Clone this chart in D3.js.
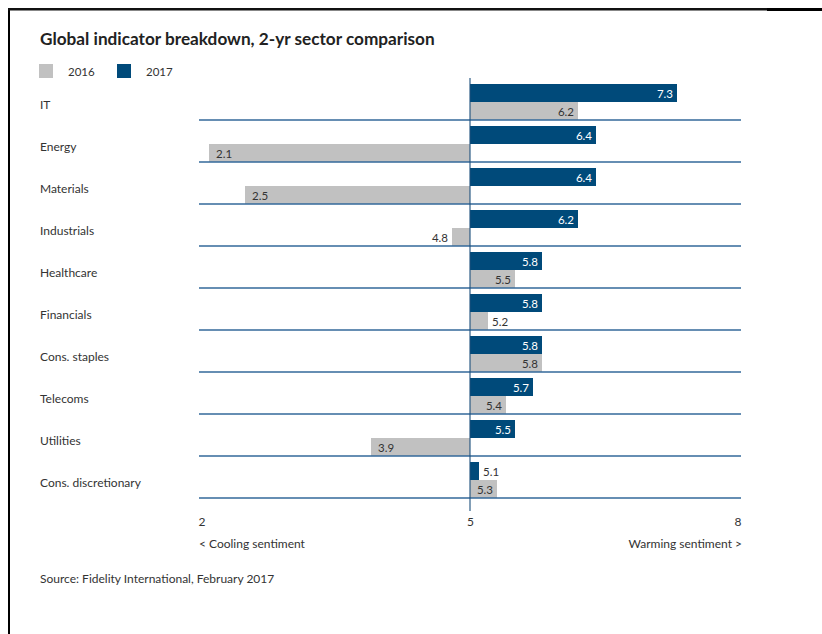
<!DOCTYPE html>
<html>
<head>
<meta charset="utf-8">
<script src="https://cdn.jsdelivr.net/npm/d3@7"></script>
<style>
  html, body { margin: 0; padding: 0; background: #fff; }
  svg { display: block; font-family: Lato, "Open Sans", sans-serif; }
</style>
</head>
<body>
<svg id="chart" width="822" height="634"></svg>
<script>
const categories = ["IT", "Energy", "Materials", "Industrials", "Healthcare", "Financials", "Cons. staples", "Telecoms", "Utilities", "Cons. discretionary"];
const values2017 = [7.3, 6.4, 6.4, 6.2, 5.8, 5.8, 5.8, 5.7, 5.5, 5.1];
const values2016 = [6.2, 2.1, 2.5, 4.8, 5.5, 5.2, 5.8, 5.4, 3.9, 5.3];
const seriesNames = ["2016", "2017"];
const tickValues = [2, 5, 8];
const baseline = 5;

const colors = { "2016": "#c1c1c1", "2017": "#004a7a" };
const textColor = "#333333";

const svg = d3.select("#chart");

// frame
svg.append("rect").attr("x", 8).attr("y", 8).attr("width", 2).attr("height", 626).attr("fill", "#000");
svg.append("rect").attr("x", 8).attr("y", 8).attr("width", 760).attr("height", 2.5).attr("fill", "#111");
svg.append("rect").attr("x", 767).attr("y", 8).attr("width", 55).attr("height", 3).attr("fill", "#000");

// title
svg.append("text").attr("x", 40).attr("y", 45)
  .attr("font-size", 17.2).attr("font-weight", 700).attr("fill", "#222")
  .text("Global indicator breakdown, 2-yr sector comparison");

// legend
const legend = svg.append("g");
const legendX = [39, 117];
seriesNames.forEach((s, i) => {
  legend.append("rect").attr("x", legendX[i]).attr("y", 64).attr("width", 14).attr("height", 14)
    .attr("fill", colors[s]);
  legend.append("text").attr("x", legendX[i] + 29).attr("y", 76)
    .attr("font-size", 11.5).attr("fill", textColor).text(s);
});

const x = d3.scaleLinear().domain([2, 8]).range([200, 740]);
const y = d3.scaleBand().domain(categories).range([78, 498]).padding(0);
const barH = 18;

const data = categories.map((c, i) => ({ cat: c, v16: values2016[i], v17: values2017[i] }));

// category labels
svg.append("g").selectAll("text").data(data).join("text")
  .attr("x", 40).attr("y", d => y(d.cat) + 31)
  .attr("font-size", 12).attr("fill", textColor).text(d => d.cat);

const rows = svg.append("g").selectAll("g").data(data).join("g")
  .attr("transform", d => `translate(0,${y(d.cat)})`);

function drawBar(sel, key, yOff, color, insideColor) {
  sel.append("rect")
    .attr("x", d => x(Math.min(d[key], baseline)))
    .attr("y", yOff)
    .attr("width", d => Math.abs(x(d[key]) - x(baseline)))
    .attr("height", barH)
    .attr("fill", color);
  sel.append("text")
    .attr("font-size", 11.5)
    .attr("y", yOff + 13.5)
    .each(function(d) {
      const v = d[key];
      const w = Math.abs(x(v) - x(baseline));
      const t = d3.select(this).text(v.toFixed(1));
      if (w >= 25) {
        t.attr("fill", insideColor);
        if (v >= baseline) t.attr("x", x(v) - 4).attr("text-anchor", "end");
        else t.attr("x", x(v) + 7).attr("text-anchor", "start");
      } else {
        t.attr("fill", textColor);
        if (v >= baseline) t.attr("x", x(v) + 4).attr("text-anchor", "start");
        else t.attr("x", x(v) - 4).attr("text-anchor", "end");
      }
    });
}

const bh = y.bandwidth();
drawBar(rows, "v17", bh - 2 * barH, colors["2017"], "#ffffff");
drawBar(rows, "v16", bh - barH, colors["2016"], textColor);

// separators
svg.append("g").selectAll("line").data(data).join("line")
  .attr("x1", 199).attr("x2", 741)
  .attr("y1", d => y(d.cat) + bh).attr("y2", d => y(d.cat) + bh)
  .attr("stroke", "#33699a").attr("stroke-width", 1.4);

// baseline vertical
svg.append("line").attr("x1", x(baseline)).attr("x2", x(baseline))
  .attr("y1", 78).attr("y2", 511)
  .attr("stroke", "#1d4f7c").attr("stroke-width", 1.1);

// axis
const axis = svg.append("g").attr("transform", "translate(0,512)")
  .call(d3.axisBottom(x).tickValues(tickValues).tickSize(0).tickPadding(0).tickFormat(d3.format("d")));
axis.select(".domain").remove();
axis.selectAll("text").attr("font-size", 12).attr("fill", textColor)
  .attr("font-family", "Lato, 'Open Sans', sans-serif").attr("dy", "0.75em").attr("y", 5);
axis.selectAll(".tick text").filter(d => d === tickValues[0]).attr("text-anchor", "start").attr("dx", -2);
axis.selectAll(".tick text").filter(d => d === tickValues[tickValues.length - 1]).attr("text-anchor", "end").attr("dx", 1);

svg.append("text").attr("x", 199).attr("y", 548).attr("font-size", 12).attr("fill", textColor)
  .text("< Cooling sentiment");
svg.append("text").attr("x", 742).attr("y", 548).attr("text-anchor", "end").attr("font-size", 12).attr("fill", textColor)
  .text("Warming sentiment >");

// source
svg.append("text").attr("x", 40).attr("y", 583).attr("font-size", 12).attr("fill", textColor)
  .text("Source: Fidelity International, February 2017");
</script>
</body>
</html>
